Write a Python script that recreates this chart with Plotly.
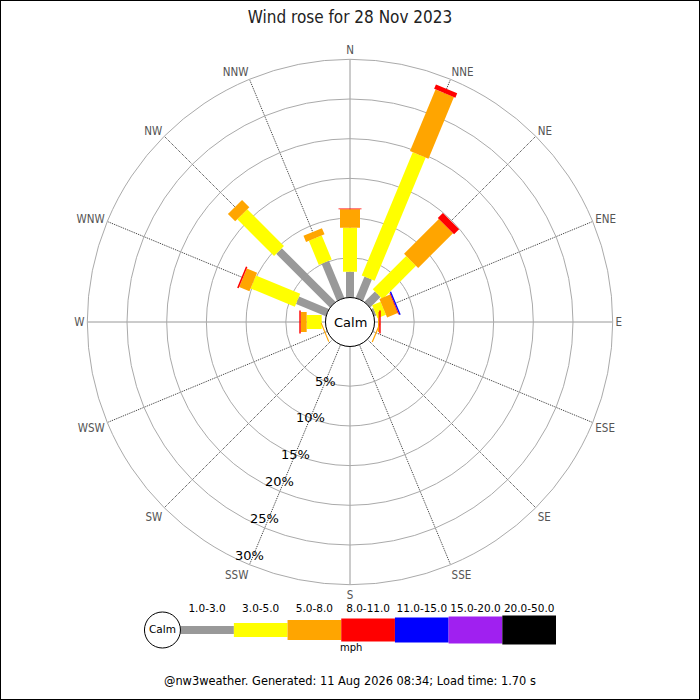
import math
import plotly.graph_objects as go

# kierunki i przedzialy predkosci
directions = ['N', 'NNE', 'NE', 'ENE', 'E', 'ESE', 'SE', 'SSE',
              'S', 'SSW', 'SW', 'WSW', 'W', 'WNW', 'NW', 'NNW']
angles = [i * 22.5 for i in range(16)]

speed_bins = ['1.0-3.0', '3.0-5.0', '5.0-8.0', '8.0-11.0', '11.0-15.0', '15.0-20.0', '20.0-50.0']
bin_colors = ['#999999', '#ffff00', '#ffa500', '#ff0000', '#0000ff', '#a020f0', '#000000']
bin_widths = [8, 14, 20, 23, 25, 27, 29]

# % czasu, ponizej 1 mph (nie rysowane, tylko przesuniecie)
below_1 = [0, 0, 0, 0, 0.44, 0.4, 0, 0, 0, 0, 0, 0.25, 0.48, 0, 0, 0]
# % czasu w kazdym przedziale predkosci
pct_1_3 = [3.25, 2.9, 1.85, 0.3, 0, 0, 0, 0, 0, 0, 0, 0, 0, 4.07, 9.56, 5.06]
pct_3_5 = [5.54, 16.8, 5.95, 1.15, 0, 0, 0, 0, 0, 0, 0, 0, 1.89, 6.03, 6.54, 3.28]
pct_5_8 = [2.31, 8.4, 6.2, 1.45, 0.16, 0.15, 0, 0, 0, 0, 0, 0.15, 0.75, 1.4, 1.3, 0.85]
pct_8_11 = [0.12, 0.6, 0.9, 0.1, 0.18, 0, 0, 0, 0, 0, 0, 0, 0.18, 0.2, 0, 0]
pct_11_15 = [0, 0, 0, 0.17, 0, 0, 0, 0, 0, 0, 0, 0, 0, 0, 0, 0]
pct_15_20 = [0] * 16
pct_20_50 = [0] * 16
series = [pct_1_3, pct_3_5, pct_5_8, pct_8_11, pct_11_15, pct_15_20, pct_20_50]

radial_ticks = [5, 10, 15, 20, 25, 30]
R_MAX = 30
label_dir = 202.5  # SSW - na tej linii opisy %

title = 'Wind rose for 28 Nov 2023'
footer = '@nw3weather. Generated: 11 Aug 2026 08:34; Load time: 1.70 s'

W, H = 700, 700
DOMAIN_X = [87.3 / W, 612.7 / W]
DOMAIN_Y = [1 - 584.7 / H, 1 - 59.3 / H]
HOLE = 24.5 / 262.7
FONT = 'DejaVu Sans'
FONT_C = 'DejaVu Sans Condensed, DejaVu Sans'

fig = go.Figure()

cum = list(below_1)
for name, vals, color, width in zip(speed_bins, series, bin_colors, bin_widths):
    rr, tt = [], []
    for k in range(16):
        if vals[k] > 0:
            rr += [cum[k], cum[k] + vals[k], None]
            tt += [angles[k], angles[k], None]
        cum[k] += vals[k]
    if not rr:
        continue
    fig.add_trace(go.Scatterpolar(
        r=rr, theta=tt, mode='lines', name=name,
        line=dict(color=color, width=width),
        showlegend=False, hoverinfo='skip'
    ))

# legenda na dole - osobna os kartezjanska
fig.add_trace(go.Bar(
    x=list(range(len(speed_bins))),
    y=bin_widths,
    base=[-w / 2 for w in bin_widths],
    width=1,
    marker=dict(color=bin_colors, line=dict(width=0)),
    xaxis='x', yaxis='y', showlegend=False, hoverinfo='skip'
))
fig.add_trace(go.Scatter(
    x=[-0.83], y=[0], mode='markers+text', text=['Calm'],
    textposition='middle center', cliponaxis=False,
    textfont=dict(family=FONT, size=10.5, color='black'),
    marker=dict(size=36, color='white', line=dict(color='black', width=1)),
    xaxis='x', yaxis='y', showlegend=False, hoverinfo='skip'
))

cx = sum(DOMAIN_X) / 2
cy = sum(DOMAIN_Y) / 2
r_out = (DOMAIN_X[1] - DOMAIN_X[0]) / 2
rh = HOLE * r_out

# opisy % na przecieciu okregow z linia SSW
tick_annots = []
for v in radial_ticks:
    rp = rh + (r_out - rh) * v / R_MAX
    a = math.radians(label_dir)
    tick_annots.append(dict(
        text=f'{v}%', x=cx + rp * math.sin(a), y=cy + rp * math.cos(a),
        xref='paper', yref='paper', showarrow=False,
        font=dict(family=FONT, size=13, color='black')))

fig.update_layout(
    width=W, height=H,
    margin=dict(l=0, r=0, t=0, b=0),
    paper_bgcolor='white',
    plot_bgcolor='white',
    font=dict(family=FONT),
    title=dict(text=title, x=0.5, xanchor='center', y=1 - 17 / H, yanchor='middle',
               font=dict(family=FONT_C, size=17, color='#222222')),
    polar=dict(
        domain=dict(x=DOMAIN_X, y=DOMAIN_Y),
        hole=HOLE,
        bgcolor='white',
        radialaxis=dict(
            range=[0, R_MAX], tickvals=radial_ticks,
            showticklabels=False, showline=False, ticks='',
            gridcolor='#aaaaaa', gridwidth=1,
        ),
        angularaxis=dict(
            rotation=90, direction='clockwise',
            tickvals=angles, ticktext=directions,
            ticks='', showline=True, linecolor='#aaaaaa', linewidth=1,
            gridcolor='#333333', griddash='1px,1px', gridwidth=1,
            tickfont=dict(family=FONT_C, size=11.5, color='#555555'),
        ),
    ),
    xaxis=dict(
        domain=[142.6 / W, 556 / W], range=[-1.2, 6.5],
        side='top', tickvals=list(range(len(speed_bins))), ticktext=speed_bins,
        tickfont=dict(family=FONT, size=10.5, color='black'),
        showgrid=False, zeroline=False, showline=False, ticks='',
        anchor='y', fixedrange=True,
    ),
    yaxis=dict(
        domain=[(H - 645) / H, (H - 615) / H], range=[-15, 15],
        showticklabels=False, showgrid=False, zeroline=False, showline=False,
        anchor='x', fixedrange=True,
    ),
    shapes=[
        dict(type='circle', xref='paper', yref='paper',
             x0=cx - rh, x1=cx + rh, y0=cy - rh, y1=cy + rh,
             line=dict(color='black', width=1), fillcolor='white'),
        dict(type='rect', xref='paper', yref='paper', x0=0, x1=1, y0=0, y1=1,
             line=dict(color='black', width=2)),
    ],
    annotations=tick_annots + [
        dict(text='Calm', x=cx, y=cy, xref='paper', yref='paper', showarrow=False,
             font=dict(family=FONT, size=13, color='black')),
        dict(text='mph', x=351 / W, y=1 - 655 / H, xref='paper', yref='paper',
             showarrow=False, font=dict(family=FONT, size=10, color='black')),
        dict(text=footer, x=0.5, y=1 - 690 / H, xref='paper', yref='paper',
             showarrow=False, font=dict(family=FONT, size=11.4, color='black')),
    ],
)

fig.write_html('out.html', config={'displayModeBar': False},
               post_script="document.body.style.margin='0';")
